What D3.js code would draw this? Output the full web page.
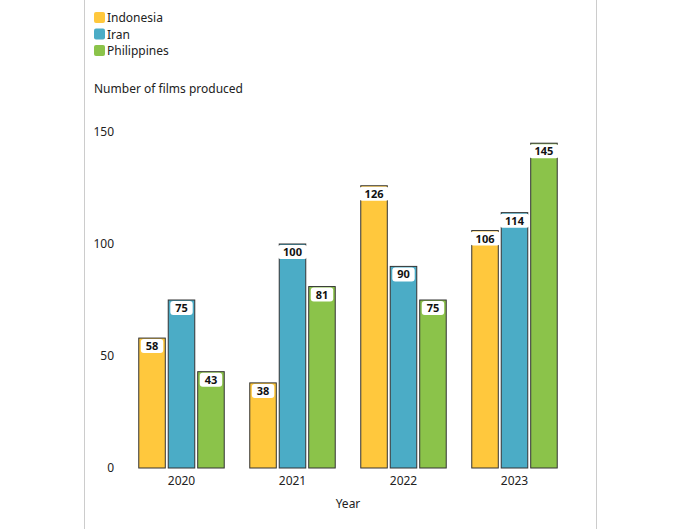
<!DOCTYPE html>
<html><head><meta charset="utf-8">
<script src="https://cdn.jsdelivr.net/npm/d3@7"></script>
<style>body{margin:0;background:#fff}svg{font-family:"Noto Sans",sans-serif}</style>
</head><body><svg id="c" width="680" height="529"></svg>
<script>
const years=["2020","2021","2022","2023"];
const seriesNames=["Indonesia","Iran","Philippines"];
const indonesia=[58,38,126,106];
const iran=[75,100,90,114];
const philippines=[43,81,75,145];
const yTicks=[0,50,100,150];
const colors=["#FFC83D","#4BACC6","#8BC34A"];
const vals=[indonesia,iran,philippines];
const svg=d3.select("#c");
svg.append("rect").attr("x",84.5).attr("y",-1).attr("width",512).attr("height",531).attr("fill","none").attr("stroke","#ccc");
const x=d3.scaleBand().domain(years).range([126,570]).paddingInner(0.23).paddingOuter(0.115);
const xs=d3.scaleBand().domain(seriesNames).range([0,x.bandwidth()]).paddingInner(0.1);
const y=d3.scaleLinear().domain([0,150]).range([468,132]);
svg.append("g").selectAll("text").data(yTicks).join("text").attr("x",114).attr("y",d=>y(d)+4).attr("text-anchor","end").attr("font-size",12).attr("fill","#222").text(d=>d);
svg.append("g").selectAll("text").data(years).join("text").attr("x",d=>x(d)+x.bandwidth()/2).attr("y",485).attr("text-anchor","middle").attr("font-size",12).attr("fill","#222").text(d=>d);
svg.append("text").attr("x",348).attr("y",508).attr("text-anchor","middle").attr("font-size",12).attr("fill","#222").text("Year");
svg.append("text").attr("x",94).attr("y",93).attr("font-size",12).attr("fill","#222").text("Number of films produced");
seriesNames.forEach((s,i)=>{
  const g=svg.append("g");
  g.append("rect").attr("x",94).attr("y",12+i*16.5).attr("width",11).attr("height",11).attr("rx",2).attr("fill",colors[i]);
  g.append("text").attr("x",107).attr("y",22+i*16.5).attr("font-size",12).attr("fill","#222").text(s);
  const data=years.map((yr,j)=>({yr,v:vals[i][j]}));
  const bg=svg.append("g");
  bg.selectAll("rect").data(data).join("rect").attr("x",d=>x(d.yr)+xs(s)).attr("y",d=>y(d.v)).attr("width",xs.bandwidth()).attr("height",d=>468-y(d.v)).attr("fill",colors[i]).attr("stroke","#333").attr("stroke-width",1);
  const lg=bg.selectAll("g").data(data).join("g").attr("transform",d=>`translate(${x(d.yr)+xs(s)+xs.bandwidth()/2},${y(d.v)+8})`);
  lg.append("rect").attr("x",d=>-(String(d.v).length*3.6+4)).attr("y",-7).attr("width",d=>String(d.v).length*7.2+8).attr("height",14).attr("rx",3).attr("fill","#fff");
  lg.append("text").attr("y",4).attr("text-anchor","middle").attr("font-size",11).attr("font-weight","bold").attr("fill","#111").text(d=>d.v);
});
</script></body></html>
